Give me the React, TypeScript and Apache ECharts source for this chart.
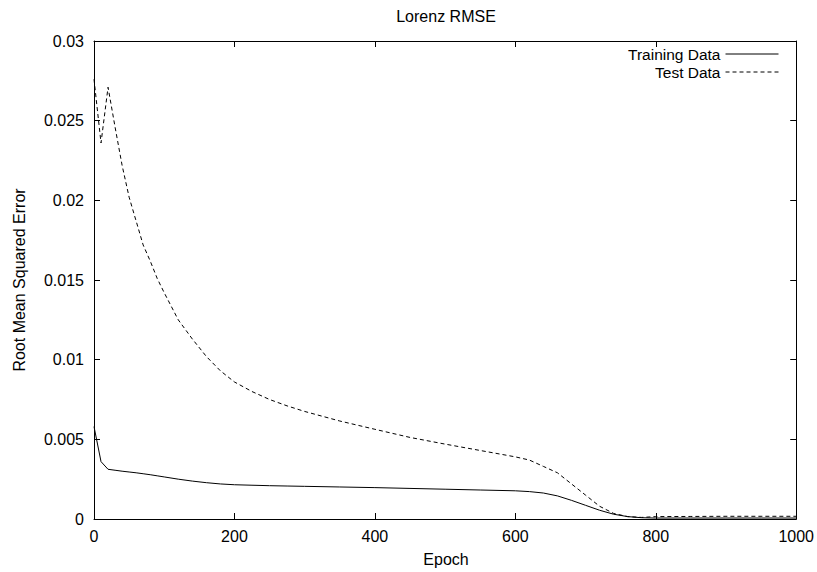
import React, { useEffect, useRef } from "react";
import * as echarts from "echarts";

const epochs = [0, 10, 20, 30, 40, 50, 60, 70, 80, 90, 100, 120, 140, 160, 180, 200, 225, 250, 275, 300, 350, 400, 450, 500, 550, 600, 620, 640, 660, 680, 700, 720, 740, 760, 780, 800, 850, 900, 950, 1000];

const trainingRmse = [0.0058, 0.0036, 0.00312, 0.00306, 0.003, 0.00295, 0.0029, 0.00284, 0.00278, 0.00271, 0.00264, 0.0025, 0.00238, 0.00228, 0.0022, 0.00215, 0.00212, 0.00209, 0.00207, 0.00205, 0.00201, 0.00197, 0.00192, 0.00187, 0.00182, 0.00177, 0.00172, 0.00163, 0.00145, 0.00117, 0.00086, 0.00055, 0.0003, 0.00015, 0.00008, 0.00006, 0.00006, 0.00006, 0.00006, 0.00006];

const testRmse = [0.0276, 0.0236, 0.0271, 0.0246, 0.0222, 0.0202, 0.0187, 0.0172, 0.0162, 0.0151, 0.0142, 0.0125, 0.0113, 0.0102, 0.0093, 0.0086, 0.008, 0.0075, 0.0071, 0.00675, 0.00615, 0.00563, 0.00512, 0.0047, 0.0043, 0.0039, 0.0037, 0.0033, 0.0029, 0.0022, 0.0015, 0.0008, 0.00035, 0.00015, 0.0001, 0.00015, 0.00016, 0.00017, 0.00017, 0.00017];

const xTicks = [0, 200, 400, 600, 800, 1000];
const yTicks = [0, 0.005, 0.01, 0.015, 0.02, 0.025, 0.03];

const FONT = "'Liberation Sans', Arial, Helvetica, sans-serif";
const FS = 16;

export default function App() {
  const ref = useRef<HTMLDivElement>(null);

  useEffect(() => {
    if (!ref.current) return;
    const chart = echarts.init(ref.current, null, { renderer: "svg" });
    const left = 94, right = 19, top = 41, bottom = 53;
    const W = 817, H = 572;
    const cx = (left + (W - right)) / 2;
    const cy = (top + (H - bottom)) / 2;
    const axisCommon = {
      type: "value" as const,
      axisLine: { show: true, onZero: false, lineStyle: { color: "#000", width: 1 } },
      axisTick: { show: true, inside: true, length: 6, lineStyle: { color: "#000", width: 1 } },
      splitLine: { show: false },
    };
    const xMin = xTicks[0], xMax = xTicks[xTicks.length - 1], xInt = xTicks[1] - xTicks[0];
    const yMin = yTicks[0], yMax = yTicks[yTicks.length - 1], yInt = yTicks[1] - yTicks[0];
    chart.setOption({
      animation: false,
      backgroundColor: "#fff",
      grid: { left, right, top, bottom, containLabel: false },
      xAxis: [
        {
          ...axisCommon,
          position: "bottom",
          min: xMin,
          max: xMax,
          interval: xInt,
          axisLabel: { color: "#000", fontFamily: FONT, fontSize: FS, margin: 9, formatter: (v: number) => String(v) },
        },
        {
          ...axisCommon,
          position: "top",
          min: xMin,
          max: xMax,
          interval: xInt,
          axisLabel: { show: false },
        },
      ],
      yAxis: [
        {
          ...axisCommon,
          position: "left",
          min: yMin,
          max: yMax,
          interval: yInt,
          axisLabel: { color: "#000", fontFamily: FONT, fontSize: FS, margin: 10, formatter: (v: number) => String(+v.toFixed(4)) },
        },
        {
          ...axisCommon,
          position: "right",
          min: yMin,
          max: yMax,
          interval: yInt,
          axisLabel: { show: false },
        },
      ],
      legend: {
        orient: "vertical",
        right: 38,
        top: 46,
        padding: 0,
        align: "right",
        itemWidth: 53,
        itemHeight: 15,
        itemGap: 2,
        itemStyle: { opacity: 0, borderWidth: 0 },
        lineStyle: { width: 1 },
        textStyle: { color: "#000", fontFamily: FONT, fontSize: 15.5, lineHeight: 15 },
        data: ["Training Data", "Test Data"],
      },
      graphic: [
        {
          type: "text",
          x: cx,
          y: 16,
          style: { text: "Lorenz RMSE", fill: "#000", font: `${FS}px ${FONT}`, textAlign: "center", textVerticalAlign: "middle" },
        },
        {
          type: "text",
          x: cx,
          y: 559,
          style: { text: "Epoch", fill: "#000", font: `${FS}px ${FONT}`, textAlign: "center", textVerticalAlign: "middle" },
        },
        {
          type: "text",
          x: 19,
          y: cy,
          rotation: Math.PI / 2,
          style: { text: "Root Mean Squared Error", fill: "#000", font: `${FS}px ${FONT}`, textAlign: "center", textVerticalAlign: "middle" },
        },
      ],
      series: [
        {
          name: "Training Data",
          type: "line",
          symbol: "none",
          showSymbol: false,
          lineStyle: { color: "#000", width: 1, type: "solid" },
          itemStyle: { color: "#000" },
          data: epochs.map((e, i) => [e, trainingRmse[i]]),
        },
        {
          name: "Test Data",
          type: "line",
          symbol: "none",
          showSymbol: false,
          lineStyle: { color: "#000", width: 1, type: [4, 3] },
          itemStyle: { color: "#000" },
          data: epochs.map((e, i) => [e, testRmse[i]]),
        },
      ],
    });
    return () => chart.dispose();
  }, []);

  return <div ref={ref} style={{ width: 817, height: 572, position: "absolute", left: 0, top: 0 }} />;
}
